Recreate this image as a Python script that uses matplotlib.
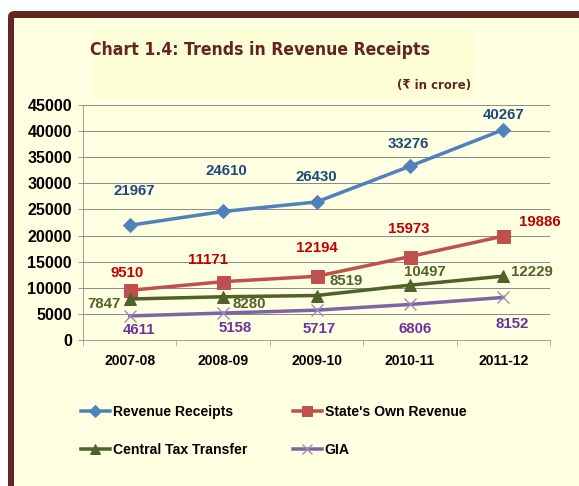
import matplotlib.pyplot as plt
from matplotlib.patches import FancyBboxPatch, Rectangle

# data
years = ['2007-08', '2008-09', '2009-10', '2010-11', '2011-12']
revenue_receipts = [21967, 24610, 26430, 33276, 40267]
own_revenue = [9510, 11171, 12194, 15973, 19886]
central_tax = [7847, 8280, 8519, 10497, 12229]
gia = [4611, 5158, 5717, 6806, 8152]

W, H = 579, 486
plt.rcParams['font.family'] = ['Liberation Sans', 'DejaVu Sans']

fig = plt.figure(figsize=(W / 72, H / 72), dpi=72)
fig.patch.set_facecolor('white')

# frame: dark brown border on top / left, light yellow inside
bg = '#FFFFE1'
fig.patches.append(FancyBboxPatch((8 / W, -0.2), 1.2, (H - 8) / H + 0.2 - 3 / H,
                                  boxstyle='round,pad=0,rounding_size=0.012',
                                  transform=fig.transFigure, fc='#632523', ec='none', zorder=-3))
fig.patches.append(Rectangle((14 / W, -0.1), 1.2, (H - 18) / H + 0.1,
                             transform=fig.transFigure, fc=bg, ec='none', zorder=-2))
fig.patches.append(Rectangle((93 / W, (H - 98) / H), 382 / W, 68 / H,
                             transform=fig.transFigure, fc='#FEFED6', ec='none', zorder=-1))

fig.text(260 / W, (H - 50) / H, 'Chart 1.4: Trends in Revenue Receipts',
         family=['DejaVu Sans', 'Liberation Sans'], fontstretch='condensed',
         fontsize=17.5, fontweight='bold', color='#632523', ha='center', va='center')
fig.text(471 / W, (H - 86) / H, '(₹ in crore)', family=['DejaVu Sans'], fontstretch='condensed',
         fontsize=13, fontweight='bold', color='#632523', ha='right', va='center')

ax = fig.add_axes([83 / W, (H - 340) / H, 467 / W, 235 / H], zorder=2)
ax.set_facecolor('none')
x = list(range(len(years)))

series = [
    (revenue_receipts, 'Revenue Receipts', '#4F81BD', '#1F497D', dict(marker='D', ms=10)),
    (own_revenue, "State's Own Revenue", '#C0504D', '#C00000', dict(marker='s', ms=13)),
    (central_tax, 'Central Tax Transfer', '#4F6228', '#4F6228', dict(marker='^', ms=12)),
    (gia, 'GIA', '#8064A2', '#7030A0', dict(marker='x', ms=12, mew=1.3, mec='#9B86BB')),
]
offsets = [
    [(5, 34), (3, 40), (0, 25), (-1, 22), (0, 15)],
    [(-3, 17), (-15, 22), (0, 28), (-1, 28), (37, 14)],
    [(-26, -5), (26, -7), (30, 15), (15, 13), (29, 4)],
    [(9, -14), (12, -15), (3, -19), (5, -25), (9, -27)],
]

lines = []
for (vals, name, col, lcol, mk), offs in zip(series, offsets):
    ln, = ax.plot(x, vals, color=col, lw=3.5, label=name, zorder=3, **mk)
    lines.append(ln)
    for xi, v, (dx, dy) in zip(x, vals, offs):
        ax.annotate(str(v), (xi, v), xytext=(dx, dy), textcoords='offset points',
                    ha='center', va='center', fontsize=15, fontweight='bold', color=lcol)

ax.set_xlim(-0.5, 4.5)
ax.set_ylim(0, 45000)
ax.set_yticks(range(0, 45001, 5000))
ax.set_yticklabels([str(v) for v in range(0, 45001, 5000)], fontsize=16, fontweight='bold')
ax.set_xticks(x)
ax.set_xticklabels(years, fontsize=14, fontweight='bold')
ax.set_xticks([i + 0.5 for i in range(-1, 5)], minor=True)
ax.tick_params(axis='x', which='major', length=0, pad=14)
ax.tick_params(axis='x', which='minor', length=6, color='#888888')
ax.tick_params(axis='y', length=5, color='#888888', pad=6)
ax.grid(axis='y', color='#8C8C8C', lw=1)
ax.set_axisbelow(True)
for s in ['top', 'right']:
    ax.spines[s].set_visible(False)
for s in ['left', 'bottom']:
    ax.spines[s].set_color('#8C8C8C')

# legend rows: RR / SOR, CTT / GIA (ncol fills column-wise)
order = [0, 2, 1, 3]
leg = fig.legend([lines[i] for i in order], [lines[i].get_label() for i in order],
                 loc='upper left', bbox_to_anchor=(68 / W, (H - 392) / H), ncol=2,
                 frameon=False, prop={'weight': 'bold', 'size': 14},
                 handlelength=2.1, handletextpad=0.2, labelspacing=1.75, columnspacing=3.25)
for h in leg.legend_handles:
    h.set_markersize(h.get_markersize() * 0.8)

fig.savefig('out.png', dpi=72)
